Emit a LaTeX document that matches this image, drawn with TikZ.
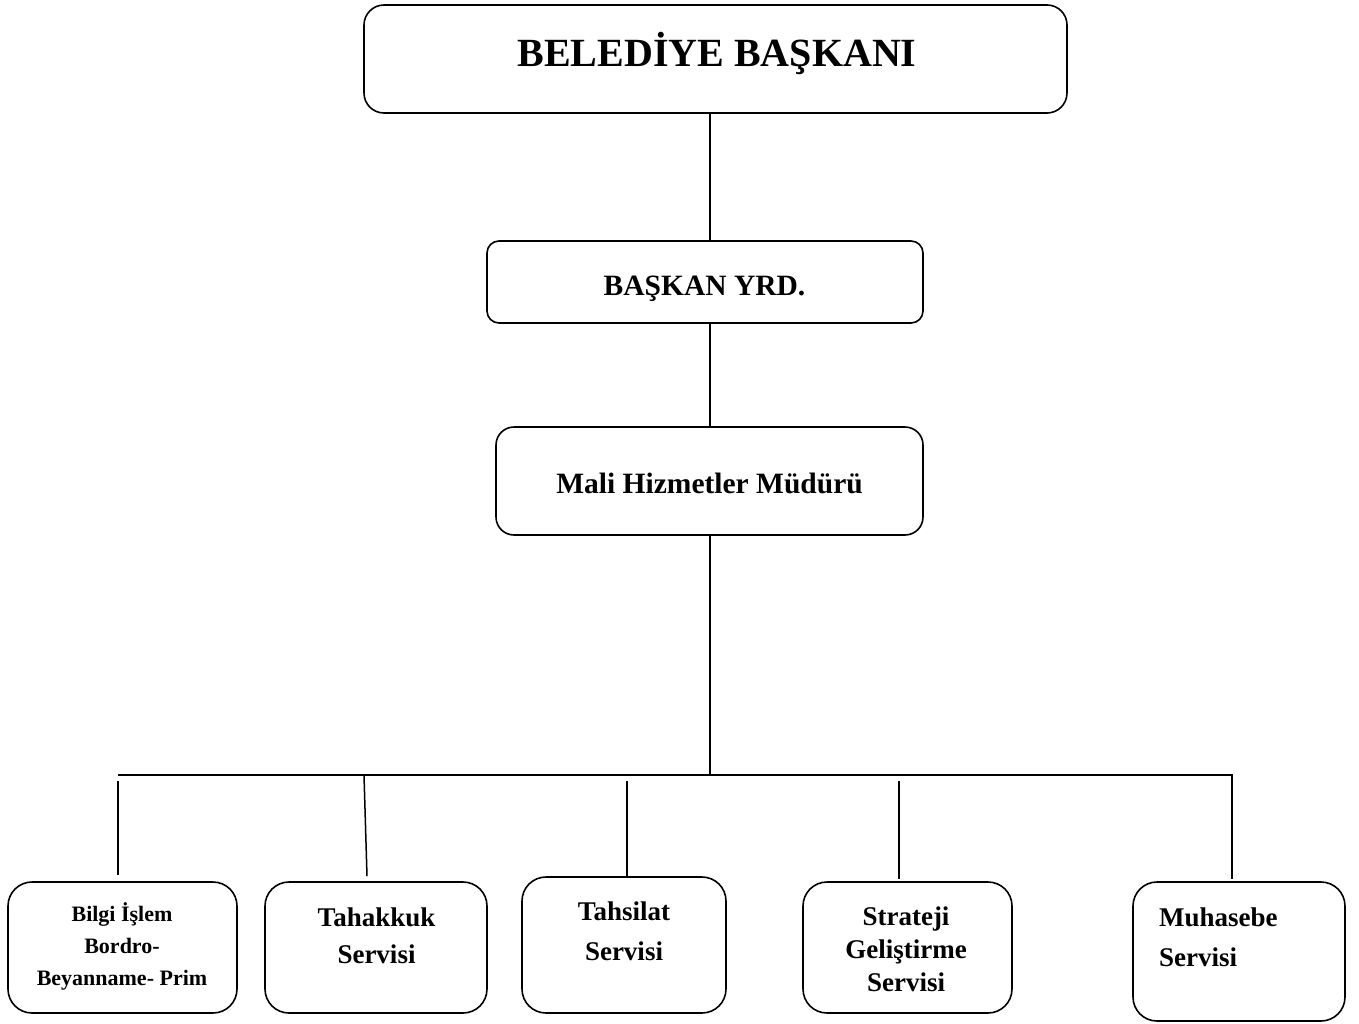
\documentclass[tikz,border=0pt]{standalone}
\usepackage{fontspec}
\setmainfont{Liberation Serif}
\begin{document}
\begin{tikzpicture}[x=1pt,y=-1pt,
  box/.style={draw, line width=1.6pt, rounded corners=#1, inner sep=0pt},
  box/.default=20pt,
  txt/.style={inner sep=0pt, anchor=base, align=center},
  conn/.style={line width=1.5pt}]
\useasboundingbox (0,0) rectangle (1359,1023);
% boxes
\node[box=20pt, minimum width=703pt, minimum height=108pt] (top) at (715.5,59) {};
\node[box=12pt, minimum width=436pt, minimum height=82pt] (yrd) at (705,282) {};
\node[box=18pt, minimum width=427pt, minimum height=108pt] (mali) at (709.5,481) {};
\node[box=24pt, minimum width=229pt, minimum height=131pt] (b1) at (122.5,947.5) {};
\node[box=24pt, minimum width=222pt, minimum height=131pt] (b2) at (376,947.5) {};
\node[box=24pt, minimum width=204pt, minimum height=136pt] (b3) at (624,945) {};
\node[box=24pt, minimum width=209pt, minimum height=131pt] (b4) at (907.5,947.5) {};
\node[box=24pt, minimum width=212pt, minimum height=139pt] (b5) at (1239,951.5) {};
% texts (multi-line nodes: base = last line's baseline)
\node[txt, font=\fontsize{40}{48}\selectfont\bfseries] (t0) at (717,66.7) {BELEDİYE BAŞKANI};
\node[txt, font=\fontsize{29.5}{36}\selectfont\bfseries] (t1) at (704.5,295.7) {BAŞKAN YRD.};
\node[txt, font=\fontsize{29.5}{36}\selectfont\bfseries] (t2) at (709.5,493.3) {Mali Hizmetler Müdürü};
\node[txt, font=\fontsize{22}{31.7}\selectfont\bfseries] (t3) at (122,985) {Bilgi İşlem\\Bordro-\\Beyanname- Prim};
\node[txt, font=\fontsize{27}{36.7}\selectfont\bfseries] (t4) at (376.5,963.3) {Tahakkuk\\Servisi};
\node[txt, font=\fontsize{27}{40}\selectfont\bfseries] (t5) at (624,960) {Tahsilat\\Servisi};
\node[txt, font=\fontsize{27}{33.3}\selectfont\bfseries] (t6) at (906,991.7) {Strateji\\Geliştirme\\Servisi};
\node[txt, font=\fontsize{27}{40}\selectfont\bfseries, align=left, anchor=base west] (t7) at (1159,966.7) {Muhasebe\\Servisi};
% connector coordinates
\coordinate (spine) at (710,0);
\coordinate (bus) at (0,775);
\coordinate (v1) at (118,0);
\coordinate (v2) at (364,0);
\coordinate (v3) at (627,0);
\coordinate (v4) at (899,0);
\coordinate (v5) at (1232,0);
% connectors
\draw[conn] (top.south -| spine) -- (yrd.north -| spine);
\draw[conn] (yrd.south -| spine) -- (mali.north -| spine);
\draw[conn] (mali.south -| spine) -- (spine |- bus);
\draw[conn] (v1 |- bus) -- (v5 |- bus) -- ([yshift=2pt]v5 |- b5.north);
\draw[conn] ([yshift=-6pt]v1 |- bus) -- ([yshift=6pt]v1 |- b1.north);
\draw[conn] (v2 |- bus) -- ([xshift=3pt,yshift=5pt]v2 |- b2.north);
\draw[conn] ([yshift=-6pt]v3 |- bus) -- (v3 |- b3.north);
\draw[conn] ([yshift=-6pt]v4 |- bus) -- ([yshift=2pt]v4 |- b4.north);
\end{tikzpicture}
\end{document}
